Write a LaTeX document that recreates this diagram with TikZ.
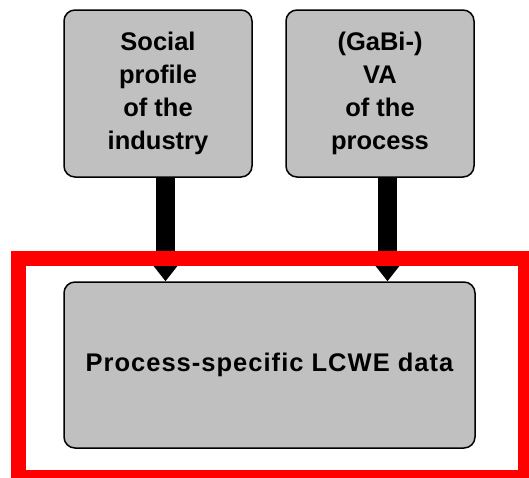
\documentclass[tikz,border=0pt]{standalone}
\usepackage{fontspec}
\setmainfont{Liberation Sans}
\usetikzlibrary{arrows.meta}
\definecolor{boxgray}{RGB}{192,192,192}
\definecolor{redframe}{RGB}{255,0,0}
\tikzset{
  graybox/.style={draw=black, line width=1.5pt, fill=boxgray, rounded corners=11pt,
    inner sep=0pt, align=center, font=\fontsize{25.5}{33}\selectfont\bfseries},
  fatarrow/.style={line width=19pt, -{Triangle[width=24pt,length=16pt]}, shorten >=0pt},
  redbox/.style={draw=redframe, line width=15pt}
}
\begin{document}
\begin{tikzpicture}[x=1pt,y=-1pt]
\useasboundingbox (0,0) rectangle (529,477);
\fill[white] (0,0) rectangle (529,477);
\begin{scope}
\clip (0,0) rectangle (529,477);
\node[graybox, minimum width=188pt, minimum height=167pt] (soc) at (158,93.5) {Social\\profile\\of the\\industry};
\node[graybox, minimum width=188pt, minimum height=167pt] (va) at (380,93.5) {(GaBi-)\\VA\\of the\\process};
\node[graybox, minimum width=411pt, minimum height=166pt] (lcwe) at (269.5,365) {\addfontfeature{LetterSpace=4}Process-specific LCWE data};
\draw[fatarrow] ([xshift=7.5pt]soc.south) -- ([xshift=7.5pt]soc.south |- lcwe.north);
\draw[fatarrow] ([xshift=7.5pt]va.south) -- ([xshift=7.5pt]va.south |- lcwe.north);
\coordinate (rtl) at (18.5,258.5);
\coordinate (rbr) at (525.5,477.5);
\draw[redbox] (rtl) rectangle (rbr);
\end{scope}
\end{tikzpicture}
\end{document}
